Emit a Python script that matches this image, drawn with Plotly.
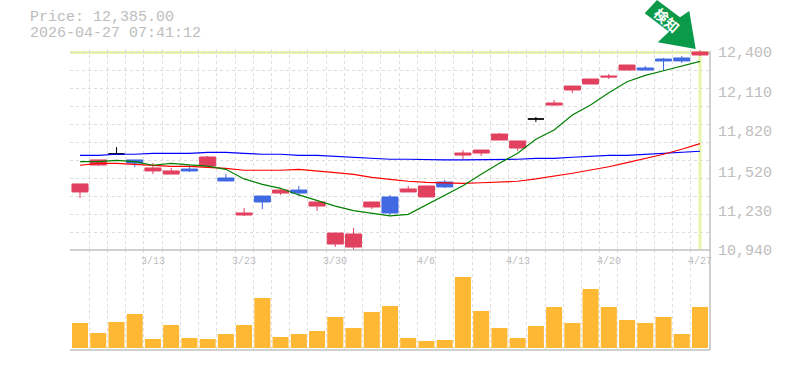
import plotly.graph_objects as go

dates = ["3/9","3/10","3/11","3/12","3/13","3/16","3/17","3/18","3/19","3/23","3/24","3/25","3/26","3/27","3/30","3/31","4/1","4/2","4/3","4/6","4/7","4/8","4/9","4/10","4/13","4/14","4/15","4/16","4/17","4/20","4/21","4/22","4/23","4/24","4/27"]
shown_dates = ["3/13","3/23","3/30","4/6","4/13","4/20","4/27"]
price_ticks = [12400, 12110, 11820, 11520, 11230, 10940]

body_top = [11427,11604,11648,11604,11545,11523,11537,11626,11471,11213,11338,11382,11382,11294,11065,11058,11294,11331,11390,11412,11441,11655,11677,11795,11744,11906,12024,12149,12201,12223,12304,12282,12348,12356,12400]
body_bot = [11368,11567,11648,11581,11523,11500,11523,11559,11449,11198,11294,11360,11360,11264,10984,10962,11257,11213,11368,11331,11405,11640,11655,11751,11692,11906,12009,12120,12164,12216,12267,12267,12334,12334,12378]
wick_high = [11427,11604,11699,11604,11581,11545,11567,11633,11500,11250,11338,11390,11412,11294,11065,11102,11294,11346,11412,11412,11456,11677,11677,11803,11744,11921,12046,12149,12201,12238,12304,12297,12356,12371,12415]
wick_low = [11323,11559,11648,11552,11500,11500,11515,11559,11449,11191,11242,11346,11338,11228,10962,10940,11242,11198,11368,11331,11397,11611,11633,11751,11670,11884,12002,12098,12164,12201,12267,12267,12260,12319,12371]
is_blue = [0,0,0,1,0,0,1,0,1,0,1,0,1,0,0,0,0,1,0,0,1,0,0,0,0,0,0,0,0,0,0,1,1,1,0]
is_black = [0,0,1,0,0,0,0,0,0,0,0,0,0,0,0,0,0,0,0,0,0,0,0,0,0,1,0,0,0,0,0,0,0,0,0]

ma_green = [11591,11591,11601,11591,11565,11579,11567,11559,11535,11464,11424,11395,11346,11306,11264,11230,11208,11191,11203,11272,11346,11414,11498,11579,11653,11756,11825,11935,12009,12100,12181,12228,12262,12299,12331]
ma_red = [11565,11579,11579,11572,11565,11557,11557,11550,11542,11528,11528,11528,11535,11525,11510,11498,11476,11461,11447,11439,11434,11432,11436,11444,11447,11464,11483,11506,11530,11554,11584,11613,11646,11683,11724]
ma_blue = [11638,11638,11646,11646,11653,11653,11653,11660,11660,11653,11646,11646,11638,11638,11631,11624,11616,11609,11609,11604,11604,11604,11604,11609,11609,11616,11616,11624,11631,11638,11638,11646,11653,11660,11668]

volume = [25,15,26,34,9,23,10,9,14,23,50,11,14,17,31,20,36,42,10,7,8,71,37,20,10,22,41,25,59,41,28,25,31,14,41]

RED, BLUE = "#e2405f", "#4169e1"
GRID, FRAME, TEXT = "#dddddd", "#c0c0c0", "#bdbdbd"
LIME = "#e4f4a8"
FONT = "Liberation Mono"
idx = list(range(len(dates)))

def subset(a, keep):
    return [a[i] for i in idx if keep(i)]

fig = go.Figure()

fig.add_trace(go.Bar(x=idx, y=volume, marker=dict(color="#ffb833", line_width=0), xaxis="x2", yaxis="y2", showlegend=False))

normal = lambda i: not is_black[i]
opens = [body_bot[i] if is_blue[i] else body_top[i] for i in idx]
closes = [body_top[i] if is_blue[i] else body_bot[i] for i in idx]
for vals, col in ((ma_blue, "#0000ff"), (ma_red, "#ff0000"), (ma_green, "#008000")):
    fig.add_trace(go.Scatter(x=idx, y=vals, mode="lines", line=dict(color=col, width=1.2), showlegend=False))
fig.add_trace(go.Candlestick(
    x=subset(idx, normal), open=subset(opens, normal), high=subset(wick_high, normal),
    low=subset(wick_low, normal), close=subset(closes, normal),
    increasing=dict(line=dict(color=BLUE, width=1), fillcolor=BLUE),
    decreasing=dict(line=dict(color=RED, width=1), fillcolor=RED),
    whiskerwidth=0, showlegend=False))
black = lambda i: bool(is_black[i])
fig.add_trace(go.Candlestick(
    x=subset(idx, black), open=subset(opens, black), high=subset(wick_high, black),
    low=subset(wick_low, black), close=subset(closes, black),
    increasing=dict(line=dict(color="#000000", width=1), fillcolor="#000000"),
    decreasing=dict(line=dict(color="#000000", width=1), fillcolor="#000000"),
    whiskerwidth=0, showlegend=False))

L, R, T, B = 70, 710, 49, 350
PW, PH = R - L, B - T
px = lambda v: (v - L) / PW
py = lambda v: (B - v) / PH
SPLIT = 250

Y_TOP = 10940 + (SPLIT - T) * 1460 / 198
half = [i - 0.5 for i in idx] + [len(idx) - 0.5]
step = 1460 / 11
hgrid = [10940 + k * step for k in range(12)]

x_range = [(L - 80) / 18.235, 34 + (R - 700) / 18.235]

fig.update_layout(
    width=785, height=370, autosize=False,
    margin=dict(l=L, r=785 - R, t=T, b=370 - B, pad=0),
    paper_bgcolor="#ffffff", plot_bgcolor="#ffffff",
    boxgap=0.12, boxgroupgap=0, bargap=0.12, showlegend=False,
    font=dict(family=FONT, color=TEXT),
    xaxis=dict(domain=[0, 1], range=x_range, anchor="y", showgrid=False, showticklabels=False, ticks="", automargin=False,
               zeroline=False, showline=False, rangeslider_visible=False, tickvals=[],
               minor=dict(tickvals=half, showgrid=True, gridcolor=GRID, griddash="3px,3px", gridwidth=1, ticks="")),
    yaxis=dict(domain=[py(SPLIT), 1], range=[10940, Y_TOP], anchor="x", side="right", showgrid=False, zeroline=False, automargin=False,
               tickvals=price_ticks, ticktext=[f"{v:,}" for v in price_ticks], ticks="", showline=False,
               tickfont=dict(family=FONT, size=15, color=TEXT), ticklabelstandoff=7,
               minor=dict(tickvals=hgrid, showgrid=True, gridcolor=GRID, griddash="3px,3px", gridwidth=1, ticks="")),
    xaxis2=dict(domain=[0, 1], range=x_range, anchor="y2", showgrid=False, zeroline=False, showline=False, ticks="", automargin=False,
                tickvals=[dates.index(d) for d in shown_dates], ticktext=[""] * len(shown_dates),
                minor=dict(tickvals=half, showgrid=True, gridcolor=GRID, griddash="3px,3px", gridwidth=1, ticks="")),
    yaxis2=dict(domain=[0, py(SPLIT)], range=[-2, 98], anchor="x2", showgrid=False, zeroline=False, showticklabels=False, ticks="", automargin=False),
)

shapes = [
    dict(type="rect", xref="paper", yref="paper", x0=0, x1=1, y0=py(54), y1=py(51), fillcolor=LIME, line_width=0, layer="below"),
    dict(type="line", xref="x", yref="paper", x0=34, x1=34, y0=py(SPLIT), y1=py(52), line=dict(color=LIME, width=3), layer="below"),
    dict(type="line", xref="paper", yref="paper", x0=0, x1=1, y0=py(SPLIT), y1=py(SPLIT), line=dict(color=FRAME, width=1.5)),
    dict(type="line", xref="paper", yref="paper", x0=0, x1=1, y0=0, y1=0, line=dict(color=FRAME, width=1.5)),
    dict(type="line", xref="paper", yref="paper", x0=1, x1=1, y0=0, y1=py(51), line=dict(color=FRAME, width=1.5)),
]
arrow_pts = [(644.7, 13.3), (657, 0), (680, 17.3), (689.3, 11), (695.7, 49), (657.7, 42.3), (669, 31.7)]
path = "M " + " L ".join(f"{px(a):.5f} {py(b):.5f}" for a, b in arrow_pts) + " Z"
shapes.append(dict(type="path", path=path, xref="paper", yref="paper", fillcolor="#0a9a4a", line_width=0))
fig.update_layout(shapes=shapes)

ann = [
    dict(text="Price: 12,385.00", x=px(29), y=py(17.5), xanchor="left", yanchor="middle", borderpad=0, font=dict(family=FONT, size=15, color=TEXT)),
    dict(text="2026-04-27 07:41:12", x=px(29), y=py(33.5), xanchor="left", yanchor="middle", borderpad=0, font=dict(family=FONT, size=15, color=TEXT)),
    dict(text="<b>検知</b>", x=px(667), y=py(20), xanchor="center", yanchor="middle", textangle=42, borderpad=0,
         font=dict(family="Noto Sans CJK JP", size=14, color="#ffffff")),
]
for d in shown_dates:
    ann.append(dict(text=d, x=px(80 + dates.index(d) * 18.235), y=py(261), xanchor="center", yanchor="middle",
                    font=dict(family=FONT, size=10, color=TEXT)))
for a in ann:
    a.update(xref="paper", yref="paper", showarrow=False)
fig.update_layout(annotations=ann)

fig.write_html("out.html", post_script="document.body.style.margin='0';", config={"displayModeBar": False})
